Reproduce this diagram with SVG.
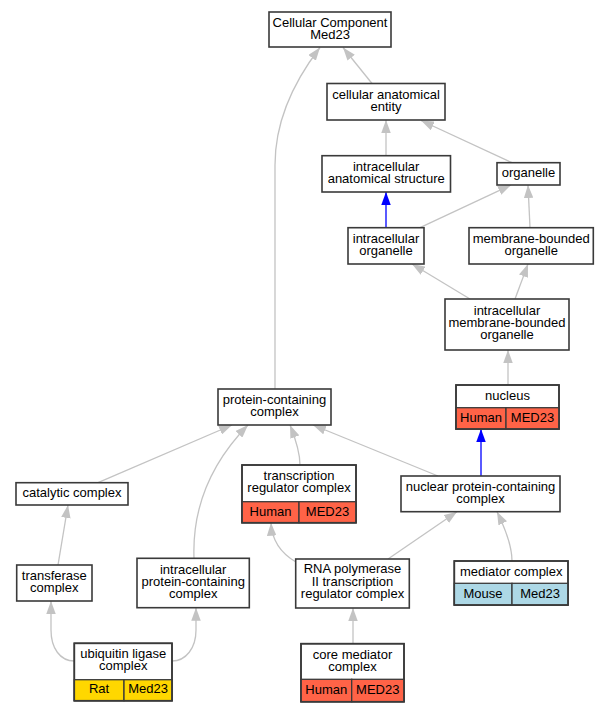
<svg xmlns="http://www.w3.org/2000/svg" width="609" height="712" viewBox="0 0 609 712">
<style>
text{font-family:"Liberation Sans",Arial,sans-serif;font-size:13px;text-anchor:middle;fill:#000}
.b{fill:#fff;stroke:#3a3a3a;stroke-width:1.6}
.o{fill:none;stroke:#3a3a3a;stroke-width:1.6}
.c{stroke:#3a3a3a;stroke-width:1.3}
.hu{fill:#ff6347}
.ra{fill:#ffd700}
.mo{fill:#add8e6}
.e{fill:none;stroke:#c3c3c3;stroke-width:1.3;marker-end:url(#ag)}
.eb{fill:none;stroke:#0000ff;stroke-width:1.3;marker-end:url(#ab)}
</style>
<defs>
<marker id="ag" viewBox="0 0 13 9.5" refX="13" refY="4.75" markerWidth="13" markerHeight="9.5" markerUnits="userSpaceOnUse" orient="auto"><path d="M0,0L13,4.75L0,9.5z" fill="#c3c3c3"/></marker>
<marker id="ab" viewBox="0 0 13 9.5" refX="13" refY="4.75" markerWidth="13" markerHeight="9.5" markerUnits="userSpaceOnUse" orient="auto"><path d="M0,0L13,4.75L0,9.5z" fill="#0000ff"/></marker>
</defs>
<rect width="609" height="712" fill="#fff"/>
<g id="edges">
<path class="e" d="M372,83.5L343,47.5"/>
<path class="e" d="M275,389L275,165C275,120 295,80 320,47.5"/>
<path class="e" d="M386,155.7L386,120"/>
<path class="e" d="M512,162.7L421,120.5"/>
<path class="eb" d="M386,227.7L386,192"/>
<path class="e" d="M420,227.7L511,185"/>
<path class="e" d="M530,227.7L528,185"/>
<path class="e" d="M470,299L412,264"/>
<path class="e" d="M515,299L528,264"/>
<path class="e" d="M508,385L508,350"/>
<path class="eb" d="M481,476L481,429"/>
<path class="e" d="M438,476L313,425"/>
<path class="e" d="M300,465C300,452 296,440 290,425"/>
<path class="e" d="M98,482.7L232,425"/>
<path class="e" d="M194,558.3C192,505 214,460 248,425"/>
<path class="e" d="M58,565L68,505"/>
<path class="e" d="M296,562C284,555 272,543 271,522.7"/>
<path class="e" d="M388,559L457,511.7"/>
<path class="e" d="M512,561C512,545 505,528 497,511.7"/>
<path class="e" d="M353,643.7L353,608"/>
<path class="e" d="M74.3,661C60,661 51,648 51,630L51,601"/>
<path class="e" d="M172,661C186,661 196,648 196,630L196,607.7"/>
</g>
<g id="n_cc"><rect class="b" x="269" y="12" width="122" height="35"/><text x="330" y="26.8">Cellular Component<tspan x="330" dy="12">Med23</tspan></text></g>
<g id="n_cae"><rect class="b" x="327" y="83.5" width="118" height="36.5"/><text x="386" y="98.9">cellular anatomical<tspan x="386" dy="12">entity</tspan></text></g>
<g id="n_ias"><rect class="b" x="322" y="155.7" width="128.5" height="36.3"/><text x="386.2" y="171">intracellular<tspan x="386.2" dy="12">anatomical structure</tspan></text></g>
<g id="n_org"><rect class="b" x="497" y="162.7" width="63" height="22.3"/><text x="528.5" y="177">organelle</text></g>
<g id="n_io"><rect class="b" x="348" y="227.7" width="76" height="36.3"/><text x="386" y="242.8">intracellular<tspan x="386" dy="12">organelle</tspan></text></g>
<g id="n_mbo"><rect class="b" x="469" y="227.7" width="124.3" height="36.3"/><text x="531.2" y="242.8">membrane-bounded<tspan x="531.2" dy="12">organelle</tspan></text></g>
<g id="n_imbo"><rect class="b" x="445" y="299" width="124" height="51"/><text x="507" y="314.5">intracellular<tspan x="507" dy="12.2">membrane-bounded</tspan><tspan x="507" dy="12.2">organelle</tspan></text></g>
<g id="n_nuc"><rect class="b" x="456" y="385" width="103" height="44"/><rect class="c hu" x="456" y="407.7" width="50" height="21.3"/><rect class="c hu" x="506" y="407.7" width="53" height="21.3"/><rect class="o" x="456" y="385" width="103" height="44"/><text x="507.5" y="399.6">nucleus</text><text x="481" y="421.6">Human</text><text x="532.5" y="421.6">MED23</text></g>
<g id="n_pcc"><rect class="b" x="218" y="389" width="113" height="36"/><text x="274.5" y="403.8">protein-containing<tspan x="274.5" dy="12.2">complex</tspan></text></g>
<g id="n_cat"><rect class="b" x="16" y="482.7" width="112" height="22.3"/><text x="72" y="497.2">catalytic complex</text></g>
<g id="n_trc"><rect class="b" x="242" y="465" width="114" height="57.7"/><rect class="c hu" x="242" y="501.7" width="57" height="21"/><rect class="c hu" x="299" y="501.7" width="57" height="21"/><rect class="o" x="242" y="465" width="114" height="57.7"/><text x="299" y="480">transcription<tspan x="299" dy="12.2">regulator complex</tspan></text><text x="270.5" y="515.5">Human</text><text x="327.5" y="515.5">MED23</text></g>
<g id="n_npcc"><rect class="b" x="401" y="476" width="159" height="35.7"/><text x="480.5" y="490.6">nuclear protein-containing<tspan x="480.5" dy="12.1">complex</tspan></text></g>
<g id="n_tra"><rect class="b" x="16.7" y="565" width="75.3" height="36"/><text x="54.3" y="579.6">transferase<tspan x="54.3" dy="12.4">complex</tspan></text></g>
<g id="n_ipcc"><rect class="b" x="137" y="558.3" width="112.3" height="49.4"/><text x="193.2" y="573.5">intracellular<tspan x="193.2" dy="12.4">protein-containing</tspan><tspan x="193.2" dy="12.4">complex</tspan></text></g>
<g id="n_rna"><rect class="b" x="295.7" y="559" width="113.6" height="49"/><text x="352.5" y="573">RNA polymerase<tspan x="352.5" dy="12.5">II transcription</tspan><tspan x="352.5" dy="12.5">regulator complex</tspan></text></g>
<g id="n_med"><rect class="b" x="454.3" y="561" width="113.7" height="44"/><rect class="c mo" x="454.3" y="583.3" width="57.7" height="21.7"/><rect class="c mo" x="512" y="583.3" width="56" height="21.7"/><rect class="o" x="454.3" y="561" width="113.7" height="44"/><text x="511.2" y="575.6">mediator complex</text><text x="483" y="597.6">Mouse</text><text x="540" y="597.6">Med23</text></g>
<g id="n_ubi"><rect class="b" x="74.3" y="643.3" width="97.7" height="57.4"/><rect class="c ra" x="74.3" y="679.7" width="49.7" height="21"/><rect class="c ra" x="124" y="679.7" width="48" height="21"/><rect class="o" x="74.3" y="643.3" width="97.7" height="57.4"/><text x="123.2" y="658">ubiquitin ligase<tspan x="123.2" dy="12.2">complex</tspan></text><text x="99" y="693.2">Rat</text><text x="148" y="693.2">Med23</text></g>
<g id="n_core"><rect class="b" x="301" y="643.7" width="103" height="58"/><rect class="c hu" x="301" y="679.3" width="50.7" height="22.4"/><rect class="c hu" x="351.7" y="679.3" width="52.3" height="22.4"/><rect class="o" x="301" y="643.7" width="103" height="58"/><text x="352.5" y="658.5">core mediator<tspan x="352.5" dy="12.2">complex</tspan></text><text x="326.3" y="694">Human</text><text x="377.8" y="694">MED23</text></g>
</svg>
